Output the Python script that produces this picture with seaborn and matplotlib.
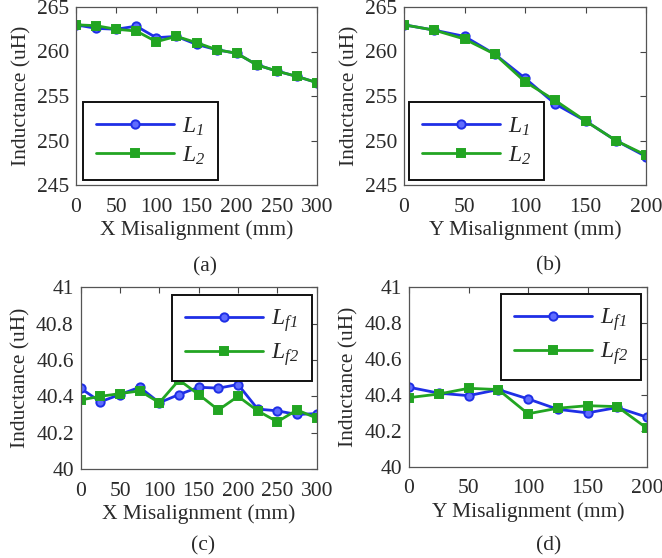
import numpy as np
import pandas as pd
import matplotlib
matplotlib.use("Agg")
import matplotlib.pyplot as plt
import seaborn as sns

# ---------------- data ----------------
x_a = [0, 25, 50, 75, 100, 125, 150, 175, 200, 225, 250, 275, 300]
L1_a = [263.0, 262.6, 262.5, 262.85, 261.55, 261.7, 260.8, 260.2, 259.8, 258.5, 257.8, 257.2, 256.5]
L2_a = [263.0, 262.9, 262.5, 262.3, 261.1, 261.7, 261.0, 260.2, 259.8, 258.5, 257.8, 257.2, 256.5]

x_b = [0, 25, 50, 75, 100, 125, 150, 175, 200]
L1_b = [263.0, 262.4, 261.7, 259.7, 257.0, 254.1, 252.2, 250.0, 248.2]
L2_b = [263.0, 262.4, 261.4, 259.7, 256.6, 254.5, 252.2, 250.0, 248.35]

x_c = x_a
Lf1_c = [40.444, 40.37, 40.41, 40.45, 40.365, 40.41, 40.45, 40.445, 40.465, 40.33, 40.32, 40.30, 40.305]
Lf2_c = [40.38, 40.40, 40.415, 40.43, 40.365, 40.49, 40.41, 40.325, 40.40, 40.32, 40.26, 40.325, 40.28]

x_d = x_b
Lf1_d = [40.443, 40.41, 40.396, 40.43, 40.378, 40.32, 40.30, 40.33, 40.276]
Lf2_d = [40.385, 40.405, 40.437, 40.43, 40.295, 40.326, 40.34, 40.335, 40.214]

labels_ab = [r"$L_{\mathit{1}}$", r"$L_{\mathit{2}}$"]
labels_cd = [r"$L_{\mathit{f1}}$", r"$L_{\mathit{f2}}$"]
xlabels = ["X Misalignment (mm)", "Y Misalignment (mm)", "X Misalignment (mm)", "Y Misalignment (mm)"]
captions = ["(a)", "(b)", "(c)", "(d)"]

# ---------------- style ----------------
sns.set_theme(style="white")
plt.rcParams["font.family"] = ["Liberation Serif", "DejaVu Serif"]
plt.rcParams["mathtext.fontset"] = "custom"
plt.rcParams["mathtext.rm"] = "Liberation Serif:italic"
plt.rcParams["mathtext.it"] = "Liberation Serif:italic"
plt.rcParams["mathtext.bf"] = "Liberation Serif:bold"
TXT = "#2a2a2a"
FS = 15.5

BLUE = "#1f2fe6"
GREEN = "#22a522"
BLUE_FILL = "#5f6cff"

fig = plt.figure(figsize=(6.62, 5.58), dpi=100)
W, H = 662.0, 558.0

def axes_px(l, t, r, b):
    return fig.add_axes([l / W, 1 - b / H, (r - l) / W, (b - t) / H])

ax_a = axes_px(76, 7, 317, 185)
ax_b = axes_px(404, 7, 646, 185)
ax_c = axes_px(80.7, 287.3, 316.7, 469)
ax_d = axes_px(409, 287.3, 647, 466.7)

def draw(ax, x, y1, y2, labels):
    df = pd.DataFrame({
        "x": list(x) + list(x),
        "y": list(y1) + list(y2),
        "s": [labels[0]] * len(x) + [labels[1]] * len(x),
    })
    sns.lineplot(data=df, x="x", y="y", hue="s", style="s",
                 palette={labels[0]: BLUE, labels[1]: GREEN},
                 markers={labels[0]: "o", labels[1]: "s"},
                 dashes=False, linewidth=2.0, markersize=6,
                 markeredgewidth=1.4, ax=ax, legend=True)
    lines = ax.get_lines()
    for ln in lines[:2]:
        ln.set_markeredgecolor(ln.get_color())
    lines[0].set_markerfacecolor(BLUE_FILL)
    lines[1].set_markerfacecolor(GREEN)
    lines[1].set_markersize(5.5)

def style(ax, xmax, ylim, yticks, yticklabels, xlabel):
    ax.set_xlim(0, xmax)
    ax.set_ylim(*ylim)
    ax.set_xticks(np.arange(0, xmax + 1, 50))
    ax.set_yticks(yticks)
    ax.set_yticklabels(yticklabels)
    ax.tick_params(direction="in", top=True, right=True, length=4, width=0.8,
                   labelsize=FS, colors="#444444", labelcolor=TXT)
    ax.tick_params(axis="x", pad=9)
    ax.tick_params(axis="y", pad=5)
    for sp in ax.spines.values():
        sp.set_color("#555555")
        sp.set_linewidth(0.9)
    ax.set_xlabel(xlabel, fontsize=FS, color=TXT, labelpad=3)
    ax.set_ylabel("Inductance (uH)", fontsize=FS, color=TXT, labelpad=4)

def legend(ax, loc, anchor):
    h, l = ax.get_legend_handles_labels()
    for hh in h:
        hh.set_linewidth(2.0)
        hh.set_markeredgecolor(hh.get_color())
        hh.set_markersize(6)
    h[0].set_markerfacecolor(BLUE_FILL)
    h[1].set_markersize(5.5)
    lg = ax.legend(h, l, loc=loc, bbox_to_anchor=anchor, borderaxespad=0,
                   fancybox=False, edgecolor="#111111", framealpha=1,
                   fontsize=17, handlelength=3.3, handletextpad=0.35,
                   labelspacing=0.3, borderpad=0.55)
    lg.get_frame().set_linewidth(1.4)

draw(ax_a, x_a, L1_a, L2_a, labels_ab)
draw(ax_b, x_b, L1_b, L2_b, labels_ab)
draw(ax_c, x_c, Lf1_c, Lf2_c, labels_cd)
draw(ax_d, x_d, Lf1_d, Lf2_d, labels_cd)

yt_ab = [245, 250, 255, 260, 265]
yt_cd = [40, 40.2, 40.4, 40.6, 40.8, 41]
style(ax_a, 300, (245, 265), yt_ab, [str(v) for v in yt_ab], xlabels[0])
style(ax_b, 200, (245, 265), yt_ab, [str(v) for v in yt_ab], xlabels[1])
style(ax_c, 300, (40, 41), yt_cd, ["40", "40.2", "40.4", "40.6", "40.8", "41"], xlabels[2])
style(ax_d, 200, (40, 41), yt_cd, ["40", "40.2", "40.4", "40.6", "40.8", "41"], xlabels[3])

legend(ax_a, "lower left", (0.029, 0.028))
legend(ax_b, "lower left", (0.02, 0.028))
legend(ax_c, "upper right", (0.98, 0.96))
legend(ax_d, "upper right", (0.975, 0.965))

cap_pos = [(205, 267), (549, 266), (203, 546), (549, 546)]
for (cx, cy), t in zip(cap_pos, captions):
    fig.text(cx / W, 1 - cy / H, t, ha="center", va="center", fontsize=FS, color=TXT)

fig.savefig("out.png", dpi=100)
